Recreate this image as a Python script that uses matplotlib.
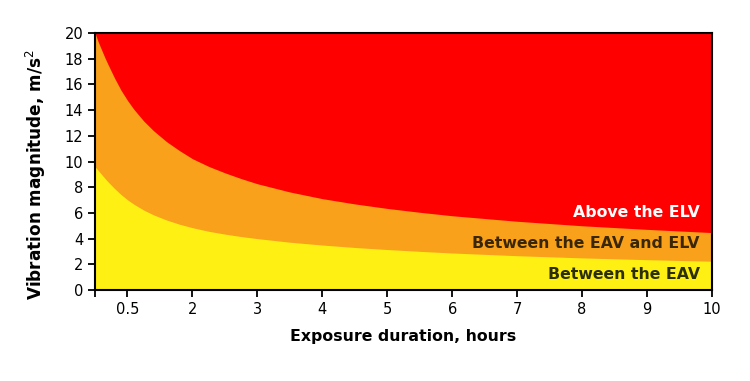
import numpy as np
from matplotlib import pyplot as plt

# exposure duration (hours) and boundary magnitudes
hours = [0.5, 0.55, 0.6, 0.65, 0.7, 0.8, 0.9, 1.0, 1.1, 1.25, 1.4, 1.6,
         1.8, 2.0, 2.25, 2.5, 2.75, 3, 3.5, 4, 4.5, 5, 5.5, 6, 7, 8, 9, 10]
eav = [9.6, 9.3, 9.0, 8.7, 8.42, 7.9, 7.43, 7.02, 6.67, 6.22, 5.85, 5.45,
       5.12, 4.85, 4.57, 4.35, 4.16, 4.0, 3.72, 3.5, 3.31, 3.15, 3.01,
       2.88, 2.67, 2.5, 2.36, 2.24]
elv = [20.0, 19.3, 18.7, 18.1, 17.55, 16.5, 15.55, 14.75, 14.05, 13.15,
       12.4, 11.55, 10.85, 10.22, 9.62, 9.12, 8.67, 8.27, 7.63, 7.11, 6.7,
       6.35, 6.05, 5.78, 5.35, 5.0, 4.72, 4.47]

x_ticks = [0.5, 1, 2, 3, 4, 5, 6, 7, 8, 9, 10]
x_tick_labels = ['', '0.5', '2', '3', '4', '5', '6', '7', '8', '9', '10']
y_ticks = [0, 2, 4, 6, 8, 10, 12, 14, 16, 18, 20]

zones = ['Above the ELV', 'Between the EAV and ELV', 'Between the EAV']


def main():
    fig = plt.figure(figsize=(7.5, 3.81), dpi=100)
    ax = fig.add_axes([0.1267, 0.2388, 0.8226, 0.6746])

    col_red = '#ff0000'
    col_orange = '#f9a11b'
    col_yellow = '#fff014'

    ax.fill_between(hours, 0, 20, color=col_red, linewidth=0)
    ax.fill_between(hours, 0, elv, color=col_orange, linewidth=0)
    ax.fill_between(hours, 0, eav, color=col_yellow, linewidth=0)

    ax.set_xlim(0.5, 10)
    ax.set_ylim(0, 20)
    ax.set_xticks(x_ticks)
    ax.set_xticklabels(x_tick_labels)
    ax.set_yticks(y_ticks)
    ax.tick_params(direction='out', length=5, width=1.3, labelsize=10.5,
                   colors='black')
    for sp in ax.spines.values():
        sp.set_linewidth(1.5)
        sp.set_color('black')

    ax.set_xlabel('Exposure duration, hours', fontsize=11.3,
                  fontweight='bold', labelpad=9)
    ax.set_ylabel('Vibration magnitude, m/s$^2$', fontsize=12.2,
                  fontweight='bold')
    ax.yaxis.set_label_coords(-0.076, 0.45)

    tr = ax.get_yaxis_transform()
    ax.text(0.98, 6.05, zones[0], transform=tr, ha='right', va='center',
            fontsize=11.3, fontweight='bold', color='white')
    ax.text(0.98, 3.65, zones[1], transform=tr, ha='right', va='center',
            fontsize=11.3, fontweight='bold', color='#3a2700')
    ax.text(0.98, 1.2, zones[2], transform=tr, ha='right', va='center',
            fontsize=11.3, fontweight='bold', color='#2c3000')

    fig.savefig('out.png', dpi=100)


if __name__ == "__main__":
    main()
